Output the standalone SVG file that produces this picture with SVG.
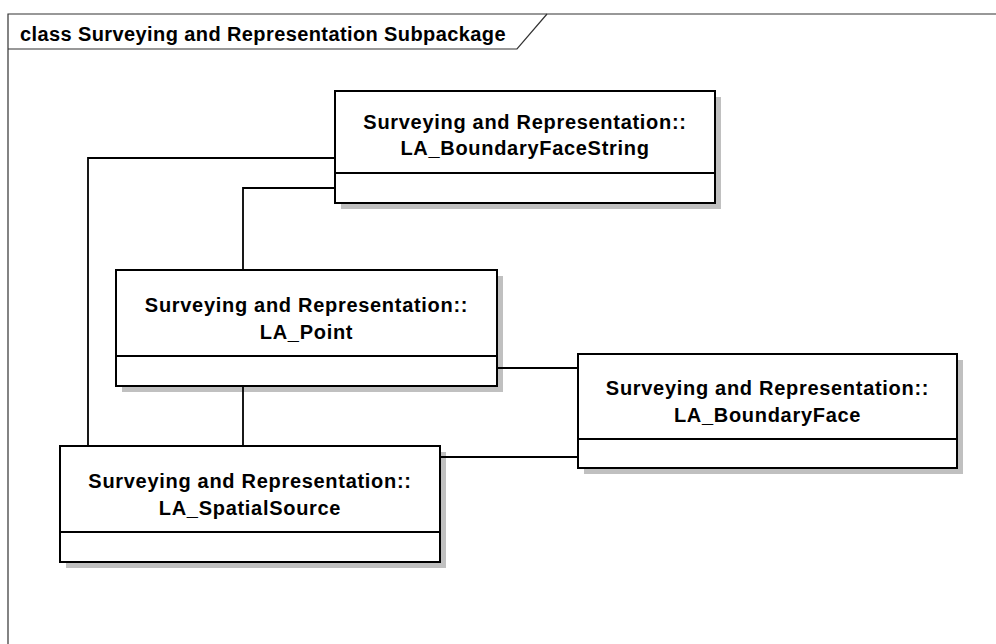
<svg xmlns="http://www.w3.org/2000/svg" width="996" height="644" viewBox="0 0 996 644">
  <defs>
    <style>
      .frame { fill: none; stroke: #333333; stroke-width: 1.2; }
      .title { font-family: "Liberation Sans", Arial, sans-serif; font-weight: bold; font-size: 20px; letter-spacing: 0.4px; fill: #000000; }
      .shadow { fill: #c0c0c0; stroke: none; }
      .box { fill: #ffffff; stroke: #000000; stroke-width: 2; }
      .div { stroke: #000000; stroke-width: 2; }
      .name { font-family: "Liberation Sans", Arial, sans-serif; font-weight: bold; font-size: 20px; letter-spacing: 0.7px; fill: #000000; text-anchor: middle; }
      .conn { fill: none; stroke: #000000; stroke-width: 1.8; }
    </style>
  </defs>
  <rect width="996" height="644" fill="#ffffff"/>

  <!-- package frame with name tab -->
  <g id="frame">
    <path class="frame" d="M8,644 V14 H996"/>
    <path class="frame" d="M8,49 H517 L547,14"/>
    <text class="title" x="20" y="41">class Surveying and Representation Subpackage</text>
  </g>

  <g id="LA_BoundaryFaceString">
    <rect class="shadow" x="341" y="97" width="380" height="112"/>
    <rect class="box" x="335" y="91" width="380" height="112"/>
    <line class="div" x1="335" y1="173" x2="715" y2="173"/>
    <text class="name" x="525" y="129">Surveying and Representation::</text>
    <text class="name" x="525" y="155">LA_BoundaryFaceString</text>
  </g>

  <g id="LA_Point">
    <rect class="shadow" x="122" y="276" width="381" height="116"/>
    <rect class="box" x="116" y="270" width="381" height="116"/>
    <line class="div" x1="116" y1="356" x2="497" y2="356"/>
    <text class="name" x="306.5" y="312">Surveying and Representation::</text>
    <text class="name" x="306.5" y="339">LA_Point</text>
  </g>

  <g id="LA_BoundaryFace">
    <rect class="shadow" x="584" y="360" width="379" height="114"/>
    <rect class="box" x="578" y="354" width="379" height="114"/>
    <line class="div" x1="578" y1="439" x2="957" y2="439"/>
    <text class="name" x="767.5" y="395">Surveying and Representation::</text>
    <text class="name" x="767.5" y="422">LA_BoundaryFace</text>
  </g>

  <g id="LA_SpatialSource">
    <rect class="shadow" x="66" y="452" width="380" height="116"/>
    <rect class="box" x="60" y="446" width="380" height="116"/>
    <line class="div" x1="60" y1="532" x2="440" y2="532"/>
    <text class="name" x="250" y="488">Surveying and Representation::</text>
    <text class="name" x="250" y="515">LA_SpatialSource</text>
  </g>

  <!-- associations, drawn over the drop shadows -->
  <g id="connectors">
    <path class="conn" d="M335,158 H88 V446"/>
    <path class="conn" d="M335,188 H243 V270"/>
    <path class="conn" d="M497,368 H578"/>
    <path class="conn" d="M243,386 V446"/>
    <path class="conn" d="M440,457 H578"/>
  </g>
</svg>
